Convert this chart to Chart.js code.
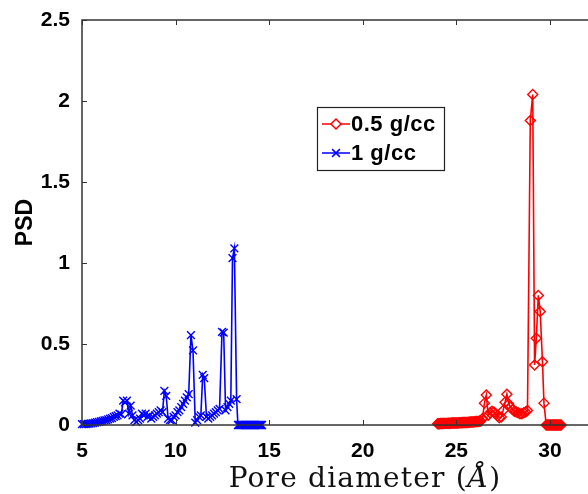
<!DOCTYPE html>
<html>
<head>
<meta charset="utf-8">
<title>Pore size distribution</title>
<script src="https://cdn.jsdelivr.net/npm/chart.js@4.4.1/dist/chart.umd.min.js"></script>
<style>
  html, body { margin: 0; padding: 0; background: #fff; overflow: hidden; }
  #wrap { width: 600px; height: 494px; }
</style>
</head>
<body>
<div id="wrap"><canvas id="psdChart" width="600" height="494"></canvas></div>
<script>
(function() {
  'use strict';

  // 0.5 g/cc (red, diamonds)
  const lowDensityX = [
    24.0, 24.05, 24.1, 24.15, 24.2, 24.25, 24.3, 24.35, 24.4, 24.45,
    24.5, 24.55, 24.6, 24.65, 24.7, 24.75, 24.8, 24.85, 24.9, 24.95,
    25.0, 25.05, 25.1, 25.15, 25.2, 25.25, 25.3, 25.35, 25.4, 25.45,
    25.5, 25.55, 25.6, 25.65, 25.7, 25.75, 25.8, 25.85, 25.9, 25.95,
    26.0, 26.05, 26.1, 26.15, 26.2, 26.25, 26.3, 26.4, 26.5, 26.6,
    26.7, 26.8, 26.9, 27.0, 27.1, 27.2, 27.3, 27.4, 27.5, 27.6,
    27.7, 27.8, 27.9, 28.0, 28.1, 28.2, 28.3, 28.4, 28.5, 28.6,
    28.7, 28.8, 28.95, 29.08, 29.18, 29.27, 29.38, 29.48, 29.6, 29.68,
    29.8, 29.85, 29.9, 29.95, 30.0, 30.05, 30.1, 30.15, 30.2, 30.25,
    30.3, 30.35, 30.4, 30.45, 30.5, 30.55, 30.6
  ];
  const lowDensityY = [
    0.008, 0.008, 0.008, 0.009, 0.009, 0.009, 0.009, 0.010, 0.010, 0.010,
    0.010, 0.011, 0.011, 0.011, 0.011, 0.012, 0.012, 0.012, 0.012, 0.013,
    0.013, 0.013, 0.013, 0.014, 0.014, 0.014, 0.014, 0.015, 0.015, 0.015,
    0.015, 0.016, 0.016, 0.017, 0.017, 0.018, 0.018, 0.019, 0.019, 0.020,
    0.020, 0.021, 0.021, 0.022, 0.022, 0.024, 0.025, 0.040, 0.135, 0.185,
    0.060, 0.075, 0.085, 0.080, 0.070, 0.055, 0.045, 0.050, 0.090, 0.140,
    0.190, 0.130, 0.110, 0.095, 0.085, 0.080, 0.075, 0.070, 0.070, 0.075,
    0.080, 0.090, 1.88, 2.04, 0.37, 0.535, 0.80, 0.70, 0.39, 0.135,
    0, 0, 0, 0, 0, 0, 0, 0, 0, 0,
    0, 0, 0, 0, 0, 0, 0
  ];

  // 1 g/cc (blue, crosses)
  const highDensityX = [
    5.0, 5.1, 5.2, 5.3, 5.4, 5.5, 5.6, 5.7, 5.8, 5.9,
    6.0, 6.1, 6.2, 6.3, 6.4, 6.5, 6.6, 6.7, 6.8, 6.9,
    7.0, 7.1, 7.2, 7.3, 7.4, 7.5, 7.6, 7.7, 7.8, 7.9,
    8.0, 8.1, 8.2, 8.3, 8.4, 8.5, 8.6, 8.7, 8.8, 8.9,
    9.0, 9.1, 9.2, 9.3, 9.4, 9.5, 9.6, 9.7, 9.8, 9.9,
    10.0, 10.1, 10.2, 10.3, 10.4, 10.5, 10.6, 10.7, 10.82, 10.93,
    11.05, 11.15, 11.25, 11.35, 11.45, 11.53, 11.65, 11.75, 11.85, 11.95,
    12.05, 12.15, 12.25, 12.35, 12.48, 12.57, 12.67, 12.77, 12.87, 12.95,
    13.04, 13.14, 13.26, 13.33, 13.38, 13.43, 13.48, 13.53, 13.58, 13.63,
    13.68, 13.73, 13.78, 13.83, 13.88, 13.93, 13.98, 14.03, 14.08, 14.13,
    14.18, 14.23, 14.28, 14.33, 14.38, 14.43, 14.48, 14.53, 14.58, 14.62
  ];
  const highDensityY = [
    0.005, 0.005, 0.006, 0.007, 0.008, 0.010, 0.012, 0.015, 0.018, 0.020,
    0.022, 0.025, 0.028, 0.030, 0.035, 0.040, 0.042, 0.050, 0.055, 0.060,
    0.070, 0.065, 0.150, 0.140, 0.150, 0.070, 0.120, 0.060, 0.030, 0.020,
    0.030, 0.040, 0.070, 0.060, 0.070, 0.050, 0.060, 0.040, 0.050, 0.060,
    0.070, 0.080, 0.090, 0.080, 0.210, 0.180, 0.040, 0.030, 0.030, 0.050,
    0.060, 0.080, 0.090, 0.110, 0.130, 0.150, 0.170, 0.190, 0.555, 0.460,
    0.015, 0.030, 0.050, 0.060, 0.310, 0.290, 0.050, 0.040, 0.050, 0.060,
    0.070, 0.080, 0.090, 0.100, 0.575, 0.570, 0.090, 0.110, 0.130, 0.150,
    1.03, 1.09, 0.160, 0, 0, 0, 0, 0, 0, 0,
    0, 0, 0, 0, 0, 0, 0, 0, 0, 0,
    0, 0, 0, 0, 0, 0, 0, 0, 0, 0
  ];

  const xTicks = [5, 10, 15, 20, 25, 30];
  const yTicks = [0, 0.5, 1, 1.5, 2, 2.5];
  const seriesLabels = ['0.5 g/cc', '1 g/cc'];
  const xTitleParts = [['Pore diameter (', ''], ['Å', 'italic '], [')', '']];

  const tickFont = { family: '"Liberation Sans", Arial, sans-serif', size: 21, weight: 'bold' };

  function toPoints(xs, ys) {
    return xs.map((x, i) => ({ x: x, y: ys[i] }));
  }

  // Boxed frame with inward MATLAB-style ticks
  const frameTicks = {
    id: 'frameTicks',
    afterDatasetsDraw(chart) {
      const { ctx, chartArea: a, scales } = chart;
      const len = 5;
      ctx.save();
      ctx.strokeStyle = '#333';
      ctx.lineWidth = 1.5;
      ctx.strokeRect(a.left, a.top, a.right - a.left, a.bottom - a.top);
      ctx.lineWidth = 1;
      ctx.beginPath();
      xTicks.forEach(v => {
        const px = Math.round(scales.x.getPixelForValue(v)) + 0.5;
        ctx.moveTo(px, a.bottom); ctx.lineTo(px, a.bottom - len);
        ctx.moveTo(px, a.top); ctx.lineTo(px, a.top + len);
      });
      yTicks.forEach(v => {
        const py = Math.round(scales.y.getPixelForValue(v)) + 0.5;
        ctx.moveTo(a.left, py); ctx.lineTo(a.left + len, py);
        ctx.moveTo(a.right, py); ctx.lineTo(a.right - len, py);
      });
      ctx.stroke();
      ctx.restore();
    }
  };

  // x title in LaTeX style, with the italic angstrom
  const xTitle = {
    id: 'xTitle',
    afterDraw(chart) {
      const ctx = chart.ctx;
      const family = '"DejaVu Serif", "Liberation Serif", serif';
      ctx.save();
      ctx.letterSpacing = '1.2px';
      ctx.fillStyle = '#111';
      ctx.textBaseline = 'alphabetic';
      const widths = xTitleParts.map(([t, style]) => {
        ctx.font = style + '28px ' + family;
        return ctx.measureText(t).width;
      });
      const total = widths.reduce((s, w) => s + w, 0);
      let x = 365 - total / 2;
      xTitleParts.forEach(([t, style], i) => {
        ctx.font = style + '28px ' + family;
        ctx.fillText(t, x, 487);
        x += widths[i];
      });
      ctx.restore();
    }
  };

  // Boxed legend inside the plot
  const boxLegend = {
    id: 'boxLegend',
    afterDraw(chart) {
      const ctx = chart.ctx;
      const box = { left: 317, top: 107, width: 127, height: 63 };
      ctx.save();
      ctx.fillStyle = '#fff';
      ctx.fillRect(box.left, box.top, box.width, box.height);
      ctx.strokeStyle = '#222';
      ctx.lineWidth = 1.2;
      ctx.strokeRect(box.left + 0.5, box.top + 0.5, box.width, box.height);
      ctx.font = 'bold 22px "Liberation Sans", Arial, sans-serif';
      ctx.letterSpacing = '0.5px';
      ctx.textBaseline = 'middle';
      chart.data.datasets.forEach((ds, i) => {
        const y = box.top + 17 + i * 29;
        ctx.strokeStyle = ds.borderColor;
        ctx.lineWidth = 1.5;
        ctx.beginPath();
        ctx.moveTo(box.left + 5, y);
        ctx.lineTo(box.left + 33, y);
        ctx.stroke();
        Chart.helpers.drawPoint(ctx, {
          pointStyle: ds.pointStyle,
          radius: ds.pointRadius,
          rotation: 0,
          borderWidth: ds.pointBorderWidth
        }, box.left + 19, y);
        ctx.fillStyle = '#000';
        ctx.fillText(ds.label, box.left + 34, y + 1);
      });
      ctx.restore();
    }
  };

  new Chart(document.getElementById('psdChart'), {
    type: 'line',
    data: {
      datasets: [
        {
          label: seriesLabels[0],
          data: toPoints(lowDensityX, lowDensityY),
          borderColor: '#ff0000',
          backgroundColor: 'rgba(0,0,0,0)',
          borderWidth: 1.6,
          pointStyle: 'rectRot',
          pointRadius: 5,
          pointBorderWidth: 1.4,
          pointBorderColor: '#ff0000',
          pointBackgroundColor: 'rgba(0,0,0,0)',
          tension: 0,
          clip: false
        },
        {
          label: seriesLabels[1],
          data: toPoints(highDensityX, highDensityY),
          borderColor: '#0000ff',
          backgroundColor: 'rgba(0,0,0,0)',
          borderWidth: 1.6,
          pointStyle: 'crossRot',
          pointRadius: 5.5,
          pointBorderWidth: 1.4,
          pointBorderColor: '#0000ff',
          tension: 0,
          clip: false
        }
      ]
    },
    options: {
      responsive: false,
      animation: false,
      layout: { padding: { top: 20, right: 7, left: 0, bottom: 0 } },
      plugins: {
        legend: { display: false },
        tooltip: { enabled: false }
      },
      scales: {
        x: {
          type: 'linear',
          min: 5,
          max: 32.3,
          afterBuildTicks: s => { s.ticks = xTicks.map(v => ({ value: v })); },
          afterFit: s => { s.height = 69; },
          grid: { display: false },
          border: { display: false },
          ticks: { color: '#000', font: tickFont, padding: 6, maxRotation: 0 },
          title: { display: false }
        },
        y: {
          min: 0,
          max: 2.5,
          afterBuildTicks: s => { s.ticks = yTicks.map(v => ({ value: v })); },
          afterFit: s => { s.width = 82; },
          grid: { display: false },
          border: { display: false },
          ticks: { color: '#000', font: tickFont, padding: 4, callback: v => String(v) },
          title: {
            display: true,
            text: 'PSD',
            color: '#000',
            font: { family: '"Liberation Sans", Arial, sans-serif', size: 23, weight: 'bold' },
            padding: { top: 12, bottom: 0 }
          }
        }
      }
    },
    plugins: [frameTicks, xTitle, boxLegend]
  });
})();
</script>
</body>
</html>
